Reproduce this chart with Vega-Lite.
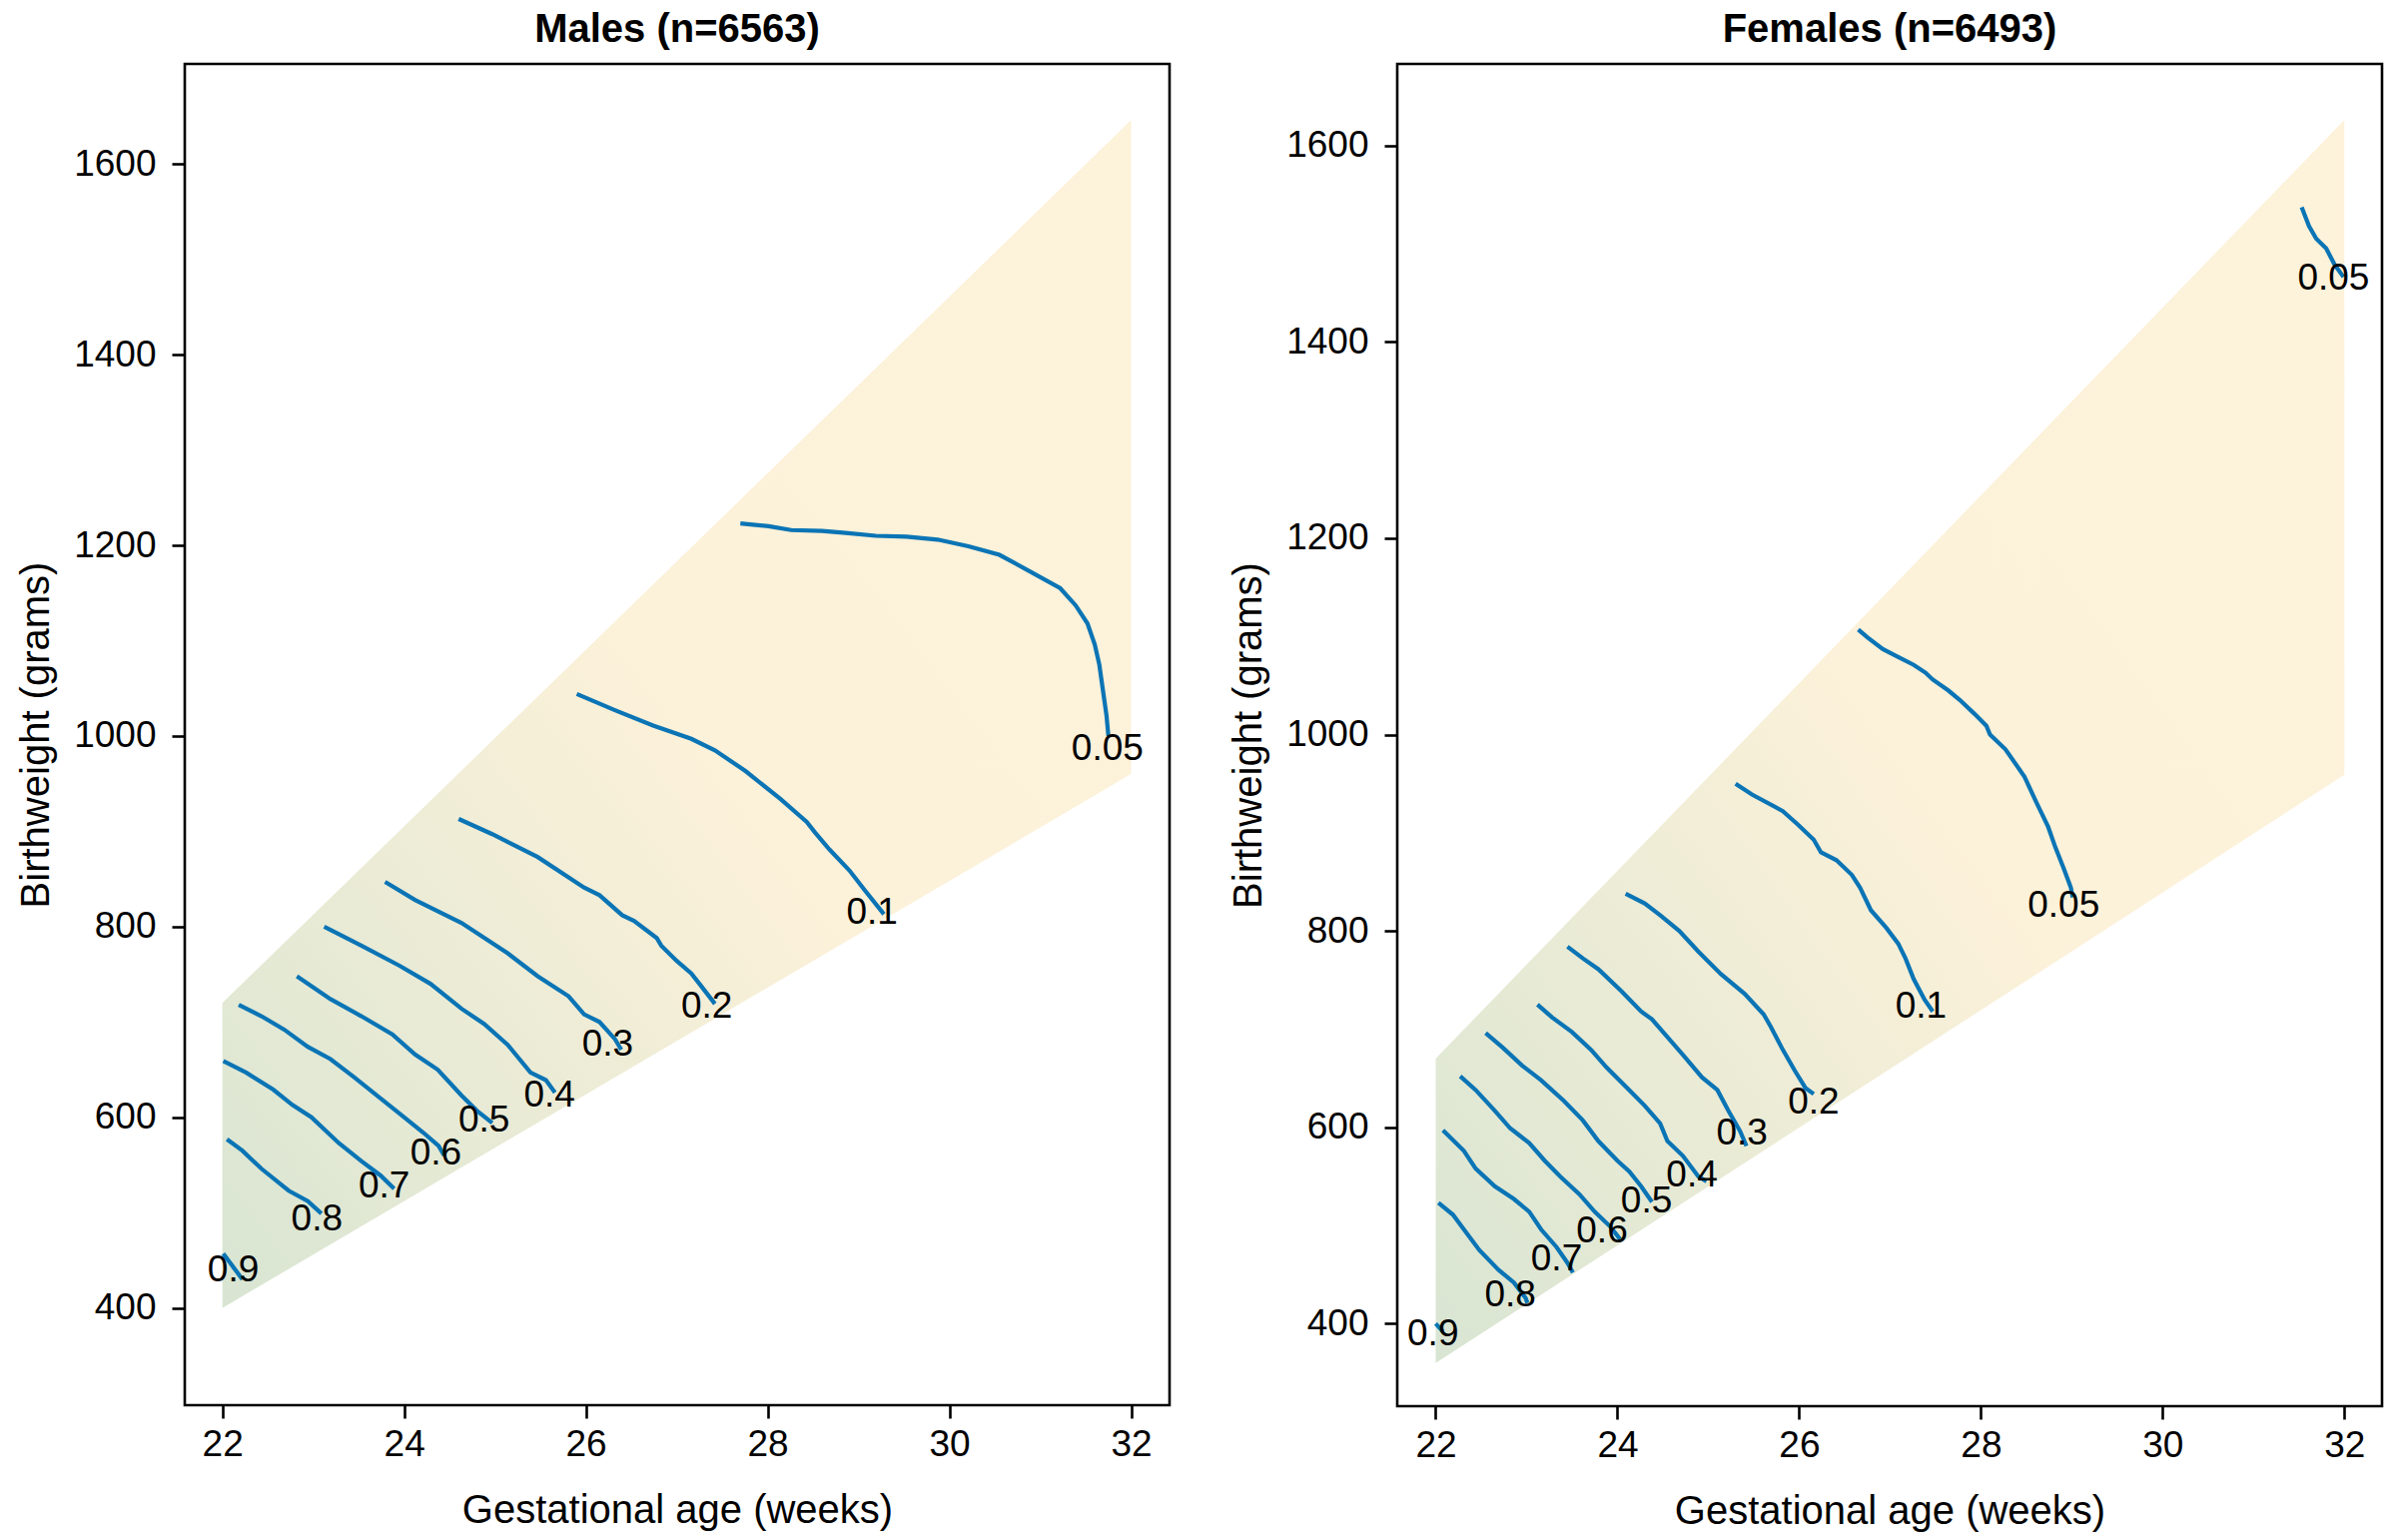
{
  "$schema": "https://vega.github.io/schema/vega-lite/v6.json",
  "background": "white",
  "padding": {"left": 15, "top": 8, "right": 10, "bottom": 2},
  "spacing": 228,
  "bounds": "flush",
  "config": {
    "font": "Liberation Sans",
    "view": {"stroke": "black", "strokeWidth": 2.6},
    "axis": {"grid": false, "domain": false, "tickColor": "black", "tickWidth": 2.6, "tickSize": 13, "labelFontSize": 37, "labelColor": "black", "titleFontSize": 40, "titleFontWeight": "normal", "titleColor": "black", "labelPadding": 8, "labelFont": "Liberation Sans", "titleFont": "Liberation Sans", "format": "d"},
    "axisY": {"titlePadding": 17, "labelPadding": 16},
    "axisX": {"titlePadding": 28},
    "title": {"fontSize": 40, "fontWeight": "bold", "offset": 14, "color": "black", "font": "Liberation Sans"}
  },
  "datasets": {
    "m_region": [{"x": 22, "y": 400, "y2": 720}, {"x": 32, "y": 960, "y2": 1646}],
    "f_region": [{"x": 22, "y": 360, "y2": 670}, {"x": 32, "y": 959, "y2": 1626}],
    "m_lines": [
      {"level": "0.05", "x": 27.70, "y": 1223}, {"level": "0.05", "x": 28.01, "y": 1220}, {"level": "0.05", "x": 28.26, "y": 1216}, {"level": "0.05", "x": 28.60, "y": 1215}, {"level": "0.05", "x": 28.86, "y": 1213}, {"level": "0.05", "x": 29.19, "y": 1210}, {"level": "0.05", "x": 29.53, "y": 1209}, {"level": "0.05", "x": 29.87, "y": 1206}, {"level": "0.05", "x": 30.21, "y": 1199}, {"level": "0.05", "x": 30.55, "y": 1190}, {"level": "0.05", "x": 30.88, "y": 1173}, {"level": "0.05", "x": 31.22, "y": 1155}, {"level": "0.05", "x": 31.39, "y": 1137}, {"level": "0.05", "x": 31.52, "y": 1118}, {"level": "0.05", "x": 31.60, "y": 1096}, {"level": "0.05", "x": 31.65, "y": 1075}, {"level": "0.05", "x": 31.69, "y": 1048}, {"level": "0.05", "x": 31.73, "y": 1021}, {"level": "0.05", "x": 31.75, "y": 1000},
      {"level": "0.1", "x": 25.90, "y": 1044}, {"level": "0.1", "x": 26.32, "y": 1027}, {"level": "0.1", "x": 26.74, "y": 1011}, {"level": "0.1", "x": 27.16, "y": 997}, {"level": "0.1", "x": 27.42, "y": 985}, {"level": "0.1", "x": 27.76, "y": 963}, {"level": "0.1", "x": 28.14, "y": 934}, {"level": "0.1", "x": 28.43, "y": 910}, {"level": "0.1", "x": 28.52, "y": 899}, {"level": "0.1", "x": 28.68, "y": 881}, {"level": "0.1", "x": 28.90, "y": 859}, {"level": "0.1", "x": 29.07, "y": 838}, {"level": "0.1", "x": 29.28, "y": 813},
      {"level": "0.2", "x": 24.60, "y": 913}, {"level": "0.2", "x": 24.97, "y": 897}, {"level": "0.2", "x": 25.47, "y": 873}, {"level": "0.2", "x": 25.98, "y": 841}, {"level": "0.2", "x": 26.15, "y": 833}, {"level": "0.2", "x": 26.40, "y": 812}, {"level": "0.2", "x": 26.53, "y": 806}, {"level": "0.2", "x": 26.78, "y": 788}, {"level": "0.2", "x": 26.83, "y": 780}, {"level": "0.2", "x": 27.00, "y": 764}, {"level": "0.2", "x": 27.16, "y": 751}, {"level": "0.2", "x": 27.25, "y": 740}, {"level": "0.2", "x": 27.42, "y": 719},
      {"level": "0.3", "x": 23.79, "y": 847}, {"level": "0.3", "x": 24.12, "y": 828}, {"level": "0.3", "x": 24.63, "y": 804}, {"level": "0.3", "x": 25.14, "y": 772}, {"level": "0.3", "x": 25.47, "y": 748}, {"level": "0.3", "x": 25.81, "y": 727}, {"level": "0.3", "x": 25.98, "y": 708}, {"level": "0.3", "x": 26.15, "y": 700}, {"level": "0.3", "x": 26.32, "y": 682}, {"level": "0.3", "x": 26.39, "y": 671},
      {"level": "0.4", "x": 23.12, "y": 800}, {"level": "0.4", "x": 23.53, "y": 780}, {"level": "0.4", "x": 23.95, "y": 759}, {"level": "0.4", "x": 24.29, "y": 740}, {"level": "0.4", "x": 24.63, "y": 714}, {"level": "0.4", "x": 24.88, "y": 698}, {"level": "0.4", "x": 25.14, "y": 676}, {"level": "0.4", "x": 25.39, "y": 647}, {"level": "0.4", "x": 25.56, "y": 639}, {"level": "0.4", "x": 25.66, "y": 626},
      {"level": "0.5", "x": 22.82, "y": 748}, {"level": "0.5", "x": 23.19, "y": 724}, {"level": "0.5", "x": 23.53, "y": 706}, {"level": "0.5", "x": 23.87, "y": 687}, {"level": "0.5", "x": 24.12, "y": 666}, {"level": "0.5", "x": 24.37, "y": 650}, {"level": "0.5", "x": 24.63, "y": 623}, {"level": "0.5", "x": 24.80, "y": 607}, {"level": "0.5", "x": 24.97, "y": 594},
      {"level": "0.6", "x": 22.18, "y": 718}, {"level": "0.6", "x": 22.43, "y": 706}, {"level": "0.6", "x": 22.68, "y": 692}, {"level": "0.6", "x": 22.94, "y": 674}, {"level": "0.6", "x": 23.19, "y": 661}, {"level": "0.6", "x": 23.45, "y": 642}, {"level": "0.6", "x": 23.70, "y": 623}, {"level": "0.6", "x": 23.91, "y": 607}, {"level": "0.6", "x": 24.21, "y": 584}, {"level": "0.6", "x": 24.38, "y": 570}, {"level": "0.6", "x": 24.44, "y": 560},
      {"level": "0.7", "x": 22.01, "y": 659}, {"level": "0.7", "x": 22.26, "y": 647}, {"level": "0.7", "x": 22.56, "y": 629}, {"level": "0.7", "x": 22.77, "y": 613}, {"level": "0.7", "x": 22.98, "y": 600}, {"level": "0.7", "x": 23.28, "y": 573}, {"level": "0.7", "x": 23.53, "y": 554}, {"level": "0.7", "x": 23.74, "y": 539}, {"level": "0.7", "x": 23.89, "y": 525},
      {"level": "0.8", "x": 22.05, "y": 577}, {"level": "0.8", "x": 22.22, "y": 565}, {"level": "0.8", "x": 22.43, "y": 546}, {"level": "0.8", "x": 22.73, "y": 523}, {"level": "0.8", "x": 22.94, "y": 512}, {"level": "0.8", "x": 23.09, "y": 499},
      {"level": "0.9", "x": 22.01, "y": 457}, {"level": "0.9", "x": 22.22, "y": 430}
    ],
    "m_labels": [
      {"label": "0.05", "x": 31.74, "y": 986}, {"label": "0.1", "x": 29.15, "y": 814}, {"label": "0.2", "x": 27.33, "y": 716}, {"label": "0.3", "x": 26.24, "y": 676}, {"label": "0.4", "x": 25.60, "y": 623}, {"label": "0.5", "x": 24.88, "y": 597}, {"label": "0.6", "x": 24.35, "y": 562}, {"label": "0.7", "x": 23.78, "y": 527}, {"label": "0.8", "x": 23.04, "y": 493}, {"label": "0.9", "x": 22.12, "y": 439}
    ],
    "f_lines": [
      {"level": "0.05 top", "x": 31.53, "y": 1537}, {"level": "0.05 top", "x": 31.61, "y": 1518}, {"level": "0.05 top", "x": 31.69, "y": 1505}, {"level": "0.05 top", "x": 31.80, "y": 1495}, {"level": "0.05 top", "x": 31.89, "y": 1479}, {"level": "0.05 top", "x": 31.99, "y": 1466},
      {"level": "0.05", "x": 26.65, "y": 1107}, {"level": "0.05", "x": 26.75, "y": 1099}, {"level": "0.05", "x": 26.92, "y": 1087}, {"level": "0.05", "x": 27.09, "y": 1079}, {"level": "0.05", "x": 27.26, "y": 1071}, {"level": "0.05", "x": 27.39, "y": 1063}, {"level": "0.05", "x": 27.47, "y": 1056}, {"level": "0.05", "x": 27.64, "y": 1045}, {"level": "0.05", "x": 27.77, "y": 1035}, {"level": "0.05", "x": 27.93, "y": 1021}, {"level": "0.05", "x": 28.06, "y": 1009}, {"level": "0.05", "x": 28.10, "y": 1000}, {"level": "0.05", "x": 28.27, "y": 985}, {"level": "0.05", "x": 28.48, "y": 957}, {"level": "0.05", "x": 28.61, "y": 931}, {"level": "0.05", "x": 28.74, "y": 906}, {"level": "0.05", "x": 28.82, "y": 885}, {"level": "0.05", "x": 28.91, "y": 864}, {"level": "0.05", "x": 28.99, "y": 844}, {"level": "0.05", "x": 29.01, "y": 834},
      {"level": "0.1", "x": 25.30, "y": 950}, {"level": "0.1", "x": 25.48, "y": 939}, {"level": "0.1", "x": 25.82, "y": 922}, {"level": "0.1", "x": 25.99, "y": 908}, {"level": "0.1", "x": 26.16, "y": 893}, {"level": "0.1", "x": 26.24, "y": 880}, {"level": "0.1", "x": 26.41, "y": 872}, {"level": "0.1", "x": 26.58, "y": 857}, {"level": "0.1", "x": 26.67, "y": 844}, {"level": "0.1", "x": 26.79, "y": 821}, {"level": "0.1", "x": 26.96, "y": 803}, {"level": "0.1", "x": 27.09, "y": 787}, {"level": "0.1", "x": 27.17, "y": 772}, {"level": "0.1", "x": 27.26, "y": 751}, {"level": "0.1", "x": 27.38, "y": 730}, {"level": "0.1", "x": 27.47, "y": 718},
      {"level": "0.2", "x": 24.09, "y": 838}, {"level": "0.2", "x": 24.30, "y": 828}, {"level": "0.2", "x": 24.47, "y": 816}, {"level": "0.2", "x": 24.68, "y": 800}, {"level": "0.2", "x": 24.89, "y": 779}, {"level": "0.2", "x": 25.14, "y": 756}, {"level": "0.2", "x": 25.40, "y": 736}, {"level": "0.2", "x": 25.61, "y": 715}, {"level": "0.2", "x": 25.69, "y": 702}, {"level": "0.2", "x": 25.82, "y": 679}, {"level": "0.2", "x": 25.95, "y": 658}, {"level": "0.2", "x": 26.07, "y": 640}, {"level": "0.2", "x": 26.16, "y": 634},
      {"level": "0.3", "x": 23.45, "y": 784}, {"level": "0.3", "x": 23.62, "y": 772}, {"level": "0.3", "x": 23.79, "y": 761}, {"level": "0.3", "x": 24.05, "y": 738}, {"level": "0.3", "x": 24.26, "y": 718}, {"level": "0.3", "x": 24.38, "y": 710}, {"level": "0.3", "x": 24.55, "y": 692}, {"level": "0.3", "x": 24.72, "y": 674}, {"level": "0.3", "x": 24.93, "y": 651}, {"level": "0.3", "x": 25.10, "y": 638}, {"level": "0.3", "x": 25.22, "y": 617}, {"level": "0.3", "x": 25.35, "y": 596}, {"level": "0.3", "x": 25.42, "y": 581},
      {"level": "0.4", "x": 23.12, "y": 725}, {"level": "0.4", "x": 23.28, "y": 712}, {"level": "0.4", "x": 23.50, "y": 697}, {"level": "0.4", "x": 23.71, "y": 679}, {"level": "0.4", "x": 23.88, "y": 661}, {"level": "0.4", "x": 24.13, "y": 638}, {"level": "0.4", "x": 24.30, "y": 622}, {"level": "0.4", "x": 24.47, "y": 604}, {"level": "0.4", "x": 24.55, "y": 586}, {"level": "0.4", "x": 24.72, "y": 571}, {"level": "0.4", "x": 24.89, "y": 550}, {"level": "0.4", "x": 24.98, "y": 545},
      {"level": "0.5", "x": 22.55, "y": 696}, {"level": "0.5", "x": 22.74, "y": 681}, {"level": "0.5", "x": 22.95, "y": 663}, {"level": "0.5", "x": 23.16, "y": 648}, {"level": "0.5", "x": 23.41, "y": 627}, {"level": "0.5", "x": 23.62, "y": 607}, {"level": "0.5", "x": 23.79, "y": 586}, {"level": "0.5", "x": 24.00, "y": 566}, {"level": "0.5", "x": 24.13, "y": 555}, {"level": "0.5", "x": 24.26, "y": 540}, {"level": "0.5", "x": 24.38, "y": 524},
      {"level": "0.6", "x": 22.27, "y": 652}, {"level": "0.6", "x": 22.44, "y": 638}, {"level": "0.6", "x": 22.65, "y": 617}, {"level": "0.6", "x": 22.82, "y": 599}, {"level": "0.6", "x": 23.03, "y": 584}, {"level": "0.6", "x": 23.20, "y": 566}, {"level": "0.6", "x": 23.37, "y": 550}, {"level": "0.6", "x": 23.58, "y": 532}, {"level": "0.6", "x": 23.75, "y": 514}, {"level": "0.6", "x": 23.92, "y": 499}, {"level": "0.6", "x": 24.03, "y": 486},
      {"level": "0.7", "x": 22.08, "y": 597}, {"level": "0.7", "x": 22.31, "y": 576}, {"level": "0.7", "x": 22.44, "y": 558}, {"level": "0.7", "x": 22.65, "y": 540}, {"level": "0.7", "x": 22.86, "y": 527}, {"level": "0.7", "x": 23.03, "y": 514}, {"level": "0.7", "x": 23.16, "y": 496}, {"level": "0.7", "x": 23.33, "y": 478}, {"level": "0.7", "x": 23.45, "y": 462}, {"level": "0.7", "x": 23.51, "y": 452},
      {"level": "0.8", "x": 22.03, "y": 523}, {"level": "0.8", "x": 22.19, "y": 511}, {"level": "0.8", "x": 22.31, "y": 496}, {"level": "0.8", "x": 22.48, "y": 475}, {"level": "0.8", "x": 22.69, "y": 455}, {"level": "0.8", "x": 22.86, "y": 442}, {"level": "0.8", "x": 22.99, "y": 426}, {"level": "0.8", "x": 23.01, "y": 421},
      {"level": "0.9", "x": 22.00, "y": 400}, {"level": "0.9", "x": 22.08, "y": 392}
    ],
    "f_labels": [
      {"label": "0.05", "x": 31.88, "y": 1464}, {"label": "0.05", "x": 28.91, "y": 826}, {"label": "0.1", "x": 27.34, "y": 723}, {"label": "0.2", "x": 26.16, "y": 625}, {"label": "0.3", "x": 25.37, "y": 594}, {"label": "0.4", "x": 24.82, "y": 551}, {"label": "0.5", "x": 24.32, "y": 525}, {"label": "0.6", "x": 23.83, "y": 494}, {"label": "0.7", "x": 23.33, "y": 466}, {"label": "0.8", "x": 22.82, "y": 429}, {"label": "0.9", "x": 21.97, "y": 389}
    ]
  },
  "hconcat": [
    {
      "title": "Males (n=6563)",
      "width": 986,
      "height": 1343,
      "encoding": {
        "x": {"field": "x", "type": "quantitative", "scale": {"domain": [21.586, 32.423], "nice": false, "zero": false}, "axis": {"values": [22, 24, 26, 28, 30, 32], "title": "Gestational age (weeks)"}},
        "y": {"field": "y", "type": "quantitative", "scale": {"domain": [298, 1705], "nice": false, "zero": false}, "axis": {"values": [400, 600, 800, 1000, 1200, 1400, 1600], "title": "Birthweight (grams)"}}
      },
      "layer": [
        {
          "data": {"name": "m_region"},
          "mark": {"type": "area", "color": {"gradient": "linear", "x1": 0, "y1": 1, "x2": 1, "y2": 0, "stops": [{"offset": 0, "color": "#d8e5d2"}, {"offset": 0.5, "color": "#fcf1d9"}, {"offset": 1, "color": "#fdf2da"}]}},
          "encoding": {"y2": {"field": "y2"}}
        },
        {
          "data": {"name": "m_lines"},
          "mark": {"type": "line", "color": "#0a74b5", "strokeWidth": 4.2},
          "encoding": {"detail": {"field": "level", "type": "nominal"}}
        },
        {
          "data": {"name": "m_labels"},
          "mark": {"type": "text", "fontSize": 37, "color": "black", "font": "Liberation Sans"},
          "encoding": {"text": {"field": "label", "type": "nominal"}}
        }
      ]
    },
    {
      "title": "Females (n=6493)",
      "width": 986,
      "height": 1344,
      "encoding": {
        "x": {"field": "x", "type": "quantitative", "scale": {"domain": [21.577, 32.414], "nice": false, "zero": false}, "axis": {"values": [22, 24, 26, 28, 30, 32], "title": "Gestational age (weeks)"}},
        "y": {"field": "y", "type": "quantitative", "scale": {"domain": [316, 1683], "nice": false, "zero": false}, "axis": {"values": [400, 600, 800, 1000, 1200, 1400, 1600], "title": "Birthweight (grams)"}}
      },
      "layer": [
        {
          "data": {"name": "f_region"},
          "mark": {"type": "area", "color": {"gradient": "linear", "x1": 0, "y1": 1, "x2": 1, "y2": 0, "stops": [{"offset": 0, "color": "#d8e5d2"}, {"offset": 0.5, "color": "#fcf1d9"}, {"offset": 1, "color": "#fdf2da"}]}},
          "encoding": {"y2": {"field": "y2"}}
        },
        {
          "data": {"name": "f_lines"},
          "mark": {"type": "line", "color": "#0a74b5", "strokeWidth": 4.2},
          "encoding": {"detail": {"field": "level", "type": "nominal"}}
        },
        {
          "data": {"name": "f_labels"},
          "mark": {"type": "text", "fontSize": 37, "color": "black", "font": "Liberation Sans"},
          "encoding": {"text": {"field": "label", "type": "nominal"}}
        }
      ]
    }
  ]
}
